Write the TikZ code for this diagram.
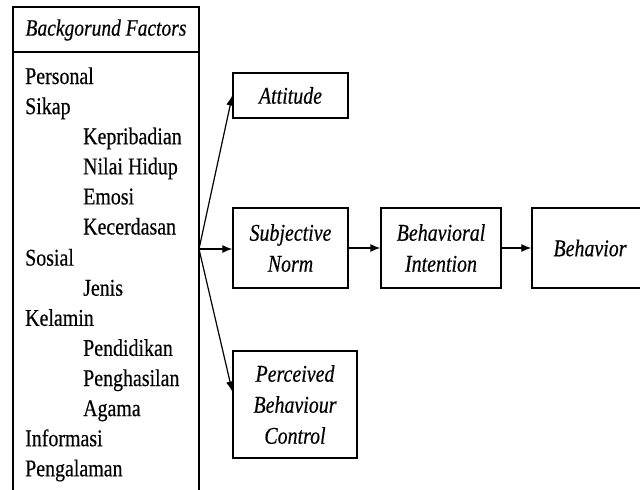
\documentclass[tikz,border=0pt]{standalone}
\usepackage{fontspec}
\setmainfont{Liberation Serif}[FakeStretch=0.83,FakeBold=0.4]
\usetikzlibrary{arrows.meta,calc}
\begin{document}
\begin{tikzpicture}[x=1pt,y=-1pt,
  fnt/.style={font=\fontsize{24}{30}\selectfont},
  box/.style={draw, line width=1.4pt, font=\fontsize{24}{31}\selectfont\itshape, align=center, inner sep=0pt},
  item/.style={fnt, anchor=base west, inner sep=0pt},
  arr/.style={-{Latex[length=10pt,width=8pt]}, line width=1.2pt}]
\useasboundingbox (0,0) rectangle (640,490);
\clip (0,0) rectangle (640,490);
% background factors box
\draw[line width=1.3pt] (13,500) -- (13,7) -- (199,7) -- (199,500);
\draw[line width=1.3pt] (13,52) -- (199,52);
\node[font=\fontsize{23.5}{30}\selectfont\itshape, inner sep=0pt] (bgh) at (106,30) {Backgorund Factors};
\node[item] (l1) at (25,84.0) {Personal};
\node[item] (l2) at (25,114.1) {Sikap};
\node[item] (l3) at (83,144.2) {Kepribadian};
\node[item] (l4) at (83,174.3) {Nilai Hidup};
\node[item] (l5) at (83,204.4) {Emosi};
\node[item] (l6) at (83,234.5) {Kecerdasan};
\node[item] (l7) at (25,265.6) {Sosial};
\node[item] (l8) at (83,295.7) {Jenis};
\node[item] (l9) at (25,325.8) {Kelamin};
\node[item] (l10) at (83,355.9) {Pendidikan};
\node[item] (l11) at (83,386.0) {Penghasilan};
\node[item] (l12) at (83,416.1) {Agama};
\node[item] (l13) at (25,446.2) {Informasi};
\node[item] (l14) at (25,476.3) {Pengalaman};
% boxes
\node[box, minimum width=115pt, minimum height=45pt] (att) at (290.5,95.5) {Attitude};
\node[box, minimum width=115pt, minimum height=80pt] (sn) at (290.5,248) {Subjective\\Norm};
\node[box, minimum width=120pt, minimum height=80pt] (bi) at (441,248) {Behavioral\\Intention};
\node[box, minimum width=116pt, minimum height=80pt] (beh) at (590,248) {Behavior};
\node[box, minimum width=124pt, minimum height=107pt] (pbc) at (295,404.5) {Perceived\\Behaviour\\Control};
% connectors
\coordinate (j) at (199,249);
\coordinate (pt) at ($(pbc.north west)!0.38!(pbc.south west)$);
\draw[arr] (j) -- (att.west);
\draw[arr] (j) -- (j -| sn.west);
\draw[arr] (j) -- (pt);
\draw[arr] (sn.east) -- (bi.west);
\draw[arr] (bi.east) -- (beh.west);
\end{tikzpicture}
\end{document}
